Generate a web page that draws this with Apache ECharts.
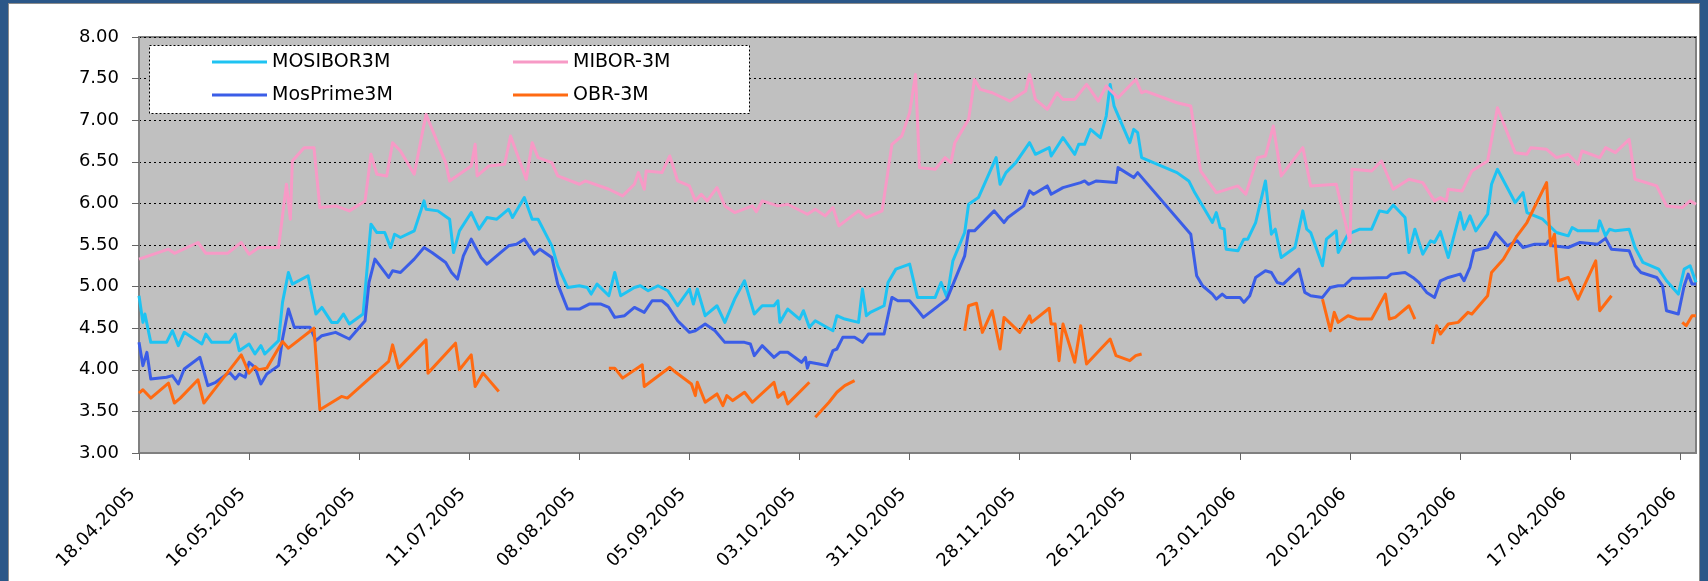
<!DOCTYPE html>
<html>
<head>
<meta charset="utf-8">
<script src="https://cdn.jsdelivr.net/npm/echarts@6/dist/echarts.min.js"></script>
<style>
    html, body { margin:0; padding:0; }
    body { width:1708px; height:581px; background:#2b5788; position:relative; overflow:hidden; }
    #panel { position:absolute; left:8px; top:3px; width:1692px; height:590px; background:#fff; border:1px solid #8c8c8c; box-sizing:border-box; }
    #rates { position:absolute; left:0; top:0; width:1708px; height:581px; }
</style>
</head>
<body>
<div id="panel"></div>
<div id="rates"></div>
<script>
    // x values are days counted from 18.04.2005
    var tickLabels = ['18.04.2005','16.05.2005','13.06.2005','11.07.2005','08.08.2005','05.09.2005','03.10.2005',
        '31.10.2005','28.11.2005','26.12.2005','23.01.2006','20.02.2006','20.03.2006','17.04.2006','15.05.2006'];
    var tickDays = tickLabels.map(function(l, i){ return i * 28; });

    var mosiborDays = [0,1,1.5,3,7,8.5,10,11.5,16,17,18.5,23,24.5,25.5,28,29.5,31,32,35.5,36.5,38,39,43,45,46.5,49,50.5,52,53.5,57,
        59,60.5,62.5,64,65,66.5,70,72.5,73,76,79,80,81.5,84.5,86.5,88.5,91,94,95,98,100,101.5,105,106.5,109,112,114,115,116.5,119.5,
        121,122.5,126,127.5,129.5,132,134.5,137,140,141,142,144,147,149,151.5,154,156.5,158.5,161.5,162.5,163,165,168,169,170.5,172,176.5,177.5,179.5,183,
        184,185,186,189.5,190.5,192.5,196,198,202.5,204,205.5,207,210,211,213.5,218,219,220.5,223,226.5,228,231.5,232,235,238,239,240.5,242,244.5,246,
        247,248,252,253,254,255,264,267,268.5,273,274,275,276,276.5,279.5,281,282,284,286.5,288,289,290.5,294,296,297,298,301,302,304.5,305,307.5,
        310.5,313.5,315.5,317.5,319,322,323,324.5,326.5,328.5,329.5,331,333,336,337,338.5,340,343,344,345.5,350,352,353,357,360.5,363.5,364.5,366,
        371,371.5,373,374,375.5,379,380.5,382.5,386.5,388.5,391.5,393,394.5,396];
    var mosiborVals = [4.89,4.57,4.67,4.33,4.33,4.47,4.29,4.45,4.31,4.43,4.33,4.33,4.43,4.23,4.31,4.19,4.29,4.19,4.35,4.81,5.17,5.03,5.13,4.67,4.75,4.57,4.57,4.67,4.55,4.67,
        5.75,5.65,5.65,5.47,5.63,5.59,5.67,6.03,5.93,5.91,5.81,5.41,5.67,5.89,5.69,5.83,5.81,5.93,5.83,6.07,5.81,5.81,5.49,5.25,4.99,5.01,4.99,4.91,5.03,4.89,
        5.17,4.89,4.99,5.01,4.95,5.01,4.95,4.77,4.97,4.79,4.97,4.65,4.77,4.57,4.85,5.07,4.67,4.77,4.77,4.83,4.57,4.73,4.61,4.71,4.51,4.59,4.47,4.65,4.61,4.57,
        4.97,4.65,4.69,4.77,5.05,5.21,5.27,4.87,4.87,5.05,4.87,5.31,5.65,5.99,6.07,6.55,6.23,6.37,6.49,6.73,6.59,6.67,6.57,6.79,6.59,6.71,6.71,6.89,6.79,7.05,
        7.43,7.17,6.73,6.89,6.85,6.55,6.37,6.27,6.13,5.77,5.89,5.71,5.69,5.45,5.43,5.57,5.57,5.77,6.27,5.63,5.69,5.35,5.47,5.91,5.69,5.65,5.25,5.57,5.67,5.41,5.63,
        5.69,5.69,5.91,5.89,5.98,5.83,5.41,5.69,5.39,5.55,5.53,5.66,5.35,5.89,5.69,5.85,5.67,5.87,6.23,6.41,6.01,6.13,5.89,5.81,5.65,5.61,5.71,5.67,
        5.67,5.79,5.61,5.69,5.67,5.69,5.47,5.29,5.21,5.07,4.91,5.21,5.25,5.05];

    var miborDays = [0,7.5,9,15,17,22.5,26,28,30.5,35.5,37.5,38.5,39,42,44.5,46,50,53.5,57.5,59,60.5,63,64.5,66.5,70,73,78,79,84.5,85.5,86,89,93,94.5,
        98.5,100,101.5,105,106.5,112,113.5,119.5,123,126,127,128.5,129,133,135,137,140,141.5,143,144.5,147,149,151.5,156,157,158.5,162.5,165,170,172,174.5,176.5,178,
        183,185,189,190.5,191.5,194,196,197.5,198.5,202.5,205,206.5,207.5,211,212.5,214,217,221.5,225.5,226.5,228,231,233.5,235,238,241,244,246,249,253.5,255,256,
        264,267.5,270,274,275.5,279.5,281.5,284.5,286.5,288.5,290.5,296,298,304.5,308,308.5,313.5,316,319,323,326.5,329.5,331,332.5,333,336.5,339,343,345.5,350,353,354,
        358,360.5,363.5,366,367,371.5,373,375.5,379,380.5,386,388.5,392.5,394.5,396];
    var miborVals = [5.33,5.45,5.40,5.53,5.40,5.40,5.53,5.39,5.47,5.47,6.23,5.81,6.51,6.67,6.67,5.95,5.97,5.91,6.03,6.59,6.35,6.33,6.73,6.63,6.35,7.07,6.49,6.27,6.45,6.71,6.33,6.45,6.47,6.81,
        6.29,6.73,6.55,6.49,6.33,6.23,6.27,6.17,6.09,6.23,6.37,6.17,6.39,6.37,6.57,6.27,6.21,6.03,6.11,6.03,6.19,5.97,5.89,5.97,5.90,6.03,5.97,5.99,5.87,5.93,5.85,5.95,5.73,
        5.91,5.83,5.91,6.39,6.71,6.81,7.09,7.55,6.43,6.41,6.55,6.49,6.73,7.01,7.49,7.37,7.33,7.23,7.35,7.55,7.25,7.13,7.33,7.25,7.25,7.43,7.23,7.41,7.27,7.49,7.33,7.35,
        7.21,7.17,6.39,6.13,6.15,6.21,6.11,6.55,6.57,6.93,6.33,6.67,6.21,6.23,5.53,6.41,6.39,6.51,6.17,6.29,6.25,6.03,6.07,6.03,6.17,6.15,6.39,6.51,7.15,6.61,6.59,6.67,
        6.65,6.55,6.59,6.47,6.63,6.55,6.67,6.61,6.77,6.29,6.21,5.97,5.95,6.03,5.99];

    var mosprimeDays = [0,1,2,3,7,8.5,10,11.5,15.5,17.5,19.5,23,24.5,25.5,27,28,29.5,31,32.5,35.5,36.5,38,39.5,43.5,45,46.5,50,53.5,57.5,58.5,60,63.5,64.5,66.5,
        70,72.5,73,74.5,78,79.5,81,82.5,84.5,87,88.5,91.5,94,96,98,100.5,102,105,106.5,109,112,114.5,117.5,119.5,121,123.5,126,128.5,130.5,133,134.5,137,140,141.5,
        144,146.5,149,154,155.5,156.5,158.5,161.5,163,165,168.5,169.5,170,170.5,173,175,176.5,177.5,179,182,184,185.5,189.5,191.5,193,196,198,199.5,205.5,210,211,
        212.5,217.5,220,221,225,226.5,227.5,231,232,235,239.5,240.5,241.5,243.5,248.5,249,253,254,267.5,269,270.5,273,274,275.5,276.5,280,281,282.5,284,286.5,288,
        289.5,291,295,296.5,298,301,303,305,306.5,308.5,311,317.5,318.5,322,324,325.5,327.5,329.5,331,333,336,337,338.5,339.5,343,345,348,350.5,352,355,358,358.5,
        359.5,363.5,366.5,371,373,374.5,379,380.5,382,386,387.5,388.5,391.5,393,394,395,396];
    var mosprimeVals = [4.33,4.05,4.21,3.89,3.91,3.93,3.83,4.01,4.15,3.81,3.85,3.97,3.89,3.95,3.91,4.09,4.03,3.83,3.95,4.05,4.37,4.73,4.51,4.51,4.35,4.41,4.45,4.37,4.59,5.05,5.33,5.11,5.19,5.17,
        5.33,5.47,5.49,5.41,5.29,5.17,5.09,5.37,5.57,5.35,5.27,5.39,5.49,5.51,5.57,5.39,5.45,5.35,5.03,4.73,4.73,4.79,4.79,4.75,4.63,4.65,4.75,4.69,4.83,4.83,4.77,4.59,4.45,4.47,
        4.55,4.47,4.33,4.33,4.31,4.17,4.29,4.15,4.21,4.21,4.09,4.15,4.02,4.09,4.07,4.05,4.23,4.25,4.39,4.39,4.33,4.43,4.43,4.87,4.83,4.83,4.72,4.63,4.85,5.37,5.67,
        5.67,5.91,5.77,5.83,5.97,6.15,6.11,6.21,6.11,6.19,6.25,6.27,6.23,6.27,6.25,6.43,6.31,6.37,5.63,5.13,5.01,4.91,4.85,4.91,4.87,4.87,4.81,4.89,5.11,5.19,5.17,
        5.05,5.03,5.21,4.93,4.89,4.87,4.99,5.01,5.01,5.10,5.10,5.11,5.15,5.17,5.11,5.05,4.93,4.87,5.07,5.11,5.15,5.07,5.23,5.43,5.47,5.65,5.49,5.55,5.47,5.51,5.51,5.55,
        5.49,5.47,5.53,5.51,5.58,5.45,5.43,5.25,5.17,5.11,5.01,4.71,4.67,5.01,5.15,5.03,5.03];

    // null marks a break in the OBR line
    var obrDays = [0,1,3,7.5,9,10.5,15,16.5,26,28,29.5,30.5,32.5,36.5,38,44.5,46,51.5,53,63.5,64.5,66,73,73.5,80.5,81.5,84.5,85.5,87.5,91.5,100,
        119.5,121,123,128,128.5,135,136.5,137,140.5,141.5,142,144,147,148.5,149.5,151,154,156,161.5,162.5,164,165,170.5,171,
        172,175.5,177.5,179.5,182,190,
        210,211,213,214.5,217,219,220,224,226.5,227,231.5,232,233,234,235,238,239.5,241,245,247,248.5,252,253.5,255,280,
        301,303,304,305,307.5,310,313.5,317,318,319.5,323,324.5,327,
        329,330,331,333,335.5,338,339,343,344,347,350.5,353,358,359,360,361,363.5,366,370.5,371.5,374.5,384,
        392.5,393.5,395,396];
    var obrVals = [3.72,3.76,3.66,3.84,3.60,3.66,3.88,3.60,4.18,3.96,4.04,4.00,4.02,4.34,4.26,4.50,3.52,3.68,3.66,4.10,4.30,4.02,4.36,3.96,4.32,4.00,4.18,3.80,3.96,3.74,null,
        4.02,4.02,3.90,4.06,3.80,4.03,3.97,3.99,3.83,3.69,3.85,3.61,3.71,3.57,3.69,3.63,3.73,3.61,3.85,3.67,3.73,3.59,3.85,null,
        3.43,3.61,3.73,3.81,3.87,null,
        4.47,4.77,4.80,4.45,4.71,4.25,4.63,4.45,4.65,4.57,4.74,4.55,4.55,4.11,4.55,4.09,4.53,4.07,4.27,4.37,4.17,4.11,4.17,4.19,null,
        4.85,4.47,4.69,4.57,4.65,4.61,4.61,4.91,4.61,4.63,4.77,4.61,null,
        4.31,4.53,4.43,4.55,4.57,4.69,4.67,4.89,5.17,5.33,5.61,5.77,6.25,5.49,5.63,5.07,5.11,4.85,5.31,4.71,4.89,null,
        4.57,4.53,4.65,4.65];

    var seriesNames = ['MOSIBOR3M', 'MIBOR-3M', 'MosPrime3M', 'OBR-3M'];
    var seriesColors = ['#1ec3f2', '#f79ac6', '#3b5de7', '#ff6a12'];

    function pairs(days, vals){
        return days.map(function(d, i){ return [d, vals[i]]; });
    }

    var chart = echarts.init(document.getElementById('rates'));

    var legendFont = {fontSize:19, fontFamily:'DejaVu Sans', color:'#000', lineHeight:20};
    function oneLegend(name, left, top){
        return {
            data:[name], left:left, top:top, orient:'horizontal',
            padding:0, itemWidth:55, itemHeight:3, icon:'rect',
            selectedMode:false, textStyle:legendFont
        };
    }

    var option = {
        animation:false,
        grid:{
            left:139, right:12, top:37, bottom:128,
            show:true, backgroundColor:'#c0c0c0',
            borderColor:'#808080', borderWidth:2
        },
        legend:[
            oneLegend('MOSIBOR3M', 212, 52),
            oneLegend('MIBOR-3M', 513, 52),
            oneLegend('MosPrime3M', 212, 85),
            oneLegend('OBR-3M', 513, 85)
        ],
        graphic:{
            elements:[{
                type:'rect', z:3,
                shape:{x:149.5, y:45.5, width:600, height:68},
                style:{fill:'#fff', stroke:'#000', lineWidth:1, lineDash:[2, 2]}
            }]
        },
        xAxis:{
            type:'value',
            min:0, max:396, interval:28,
            axisLine:{lineStyle:{color:'#808080', width:2}},
            axisTick:{length:7, lineStyle:{color:'#666'}, customValues:tickDays},
            splitLine:{show:false},
            axisLabel:{
                customValues:tickDays,
                rotate:45, margin:32, padding:[0, 9, 0, 0],
                fontSize:18, fontFamily:'DejaVu Sans', color:'#000',
                formatter:function(v){
                    var i = tickDays.indexOf(v);
                    return i < 0 ? '' : tickLabels[i];
                }
            }
        },
        yAxis:{
            type:'value',
            min:3, max:8, interval:0.5,
            axisLine:{show:true, lineStyle:{color:'#808080', width:2}},
            axisTick:{show:true, length:7, lineStyle:{color:'#666'}},
            splitLine:{lineStyle:{color:'#000', type:[2, 3], width:1}},
            axisLabel:{
                margin:20, fontSize:18, fontFamily:'DejaVu Sans', color:'#000',
                formatter:function(v){ return v.toFixed(2); }
            }
        },
        series:[
            {name:seriesNames[0], data:pairs(mosiborDays, mosiborVals)},
            {name:seriesNames[1], data:pairs(miborDays, miborVals)},
            {name:seriesNames[2], data:pairs(mosprimeDays, mosprimeVals)},
            {name:seriesNames[3], data:pairs(obrDays, obrVals)}
        ].map(function(s, i){
            return {
                name:s.name, type:'line', data:s.data,
                showSymbol:false, symbol:'none', connectNulls:false,
                color:seriesColors[i],
                lineStyle:{width:3, color:seriesColors[i], join:'round'}
            };
        })
    };

    chart.setOption(option);
    window.addEventListener('resize', chart.resize);
</script>
</body>
</html>
